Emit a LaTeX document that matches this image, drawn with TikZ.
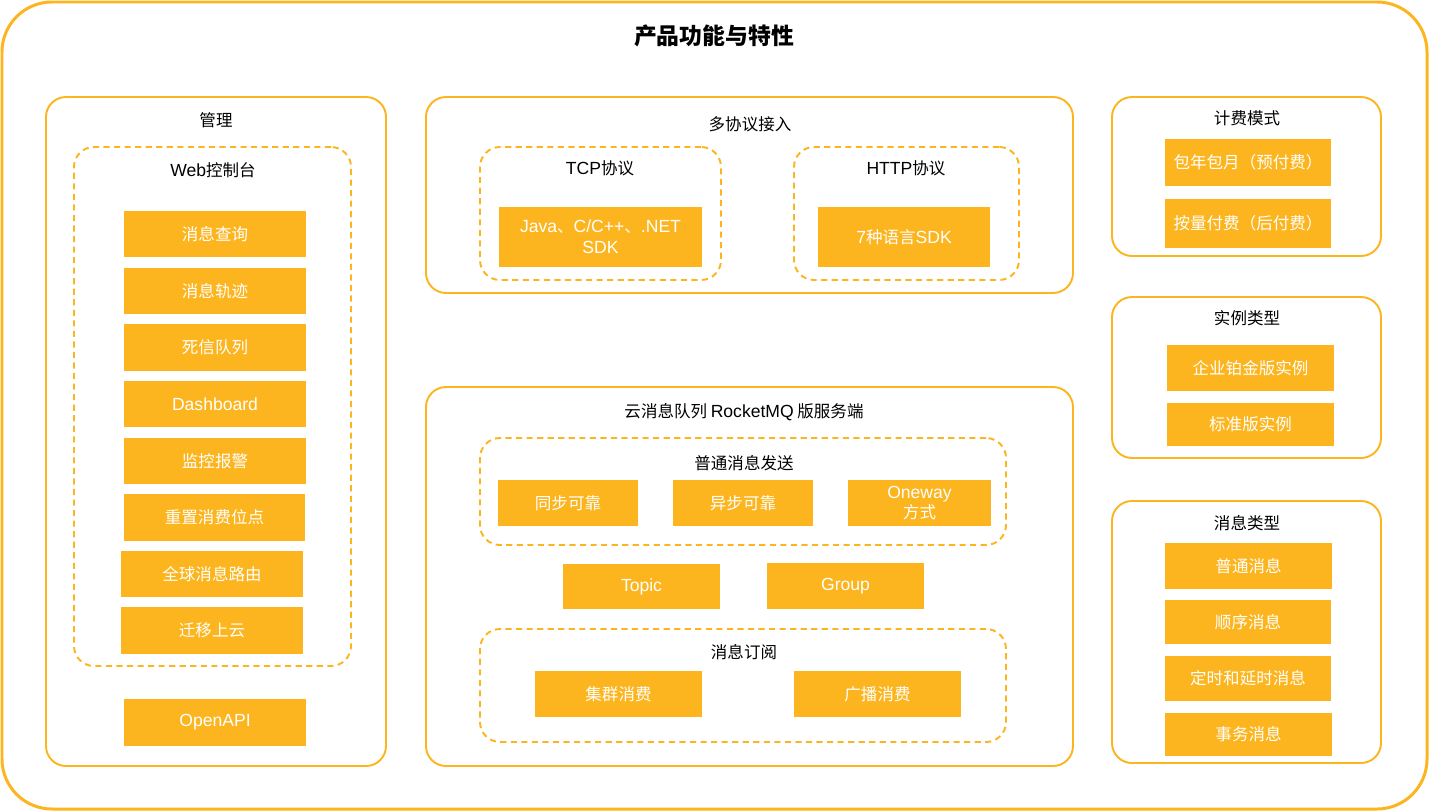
\documentclass[tikz,border=0pt]{standalone}
\usepackage{fontspec}
\setmainfont{Noto Sans CJK SC}
\newfontfamily\latf{Liberation Sans}
\newcommand\lat[1]{{\latf\fontsize{10}{11}\selectfont #1}}
\definecolor{og}{HTML}{FCB51E}
\newcommand\obox[6]{\node[ob, minimum width={(#4-#2)*0.02cm}, minimum height={(#5-#3)*0.02cm}] (#1) at ({(#2+#4)/2},{(#3+#5)/2}) {#6};}
\newcommand\frbox[6]{\node[#6, minimum width={(#4-#2)*0.02cm}, minimum height={(#5-#3)*0.02cm}] (#1) at ({(#2+#4)/2},{(#3+#5)/2}) {};}
\newcommand\ttl[4]{\node[ttlstyle] (#1) at (#2,#3) {#4};}
\begin{document}
\begin{tikzpicture}[x={(0.02cm,0)}, y={(0,-0.02cm)},
  ob/.style={fill=og, draw=none, inner sep=0pt, text=white, font=\fontsize{9.4}{10.8}\selectfont, align=center},
  solidframe/.style={draw=og, line width=1.1pt, rounded corners=0.4cm, inner sep=0pt},
  dashframe/.style={draw=og, line width=1.1pt, dashed, dash pattern=on 3.5pt off 2.5pt, rounded corners=0.4cm, inner sep=0pt},
  outerframe/.style={draw=og, line width=1.7pt, rounded corners=1cm, inner sep=0pt},
  ttlstyle/.style={text=black, font=\fontsize{9.4}{10.8}\selectfont, inner sep=0pt}]
\useasboundingbox (0,0) rectangle (1429,811);
\frbox{outer}{2}{2}{1427}{809}{outerframe}
\node[font=\fontsize{13}{15}\selectfont\bfseries, inner sep=0pt] (maintitle) at (714,36) {产品功能与特性};

% 管理
\frbox{mgmt}{46}{97}{386}{766}{solidframe}
\ttl{mgmtT}{216}{120}{管理}
\frbox{web}{74}{147}{351}{666}{dashframe}
\ttl{webT}{213}{170}{\lat{Web}控制台}
\obox{m1}{124}{211}{306}{257}{消息查询}
\obox{m2}{124}{268}{306}{314}{消息轨迹}
\obox{m3}{124}{324}{306}{371}{死信队列}
\obox{m4}{124}{381}{306}{427}{\lat{Dashboard}}
\obox{m5}{124}{438}{306}{484}{监控报警}
\obox{m6}{124}{494}{305}{541}{重置消费位点}
\obox{m7}{121}{551}{303}{597}{全球消息路由}
\obox{m8}{121}{607}{303}{654}{迁移上云}
\obox{m9}{124}{699}{306}{746}{\lat{OpenAPI}}

% 多协议接入
\frbox{proto}{426}{97}{1073}{293}{solidframe}
\ttl{protoT}{750}{124}{多协议接入}
\frbox{tcp}{480}{147}{721}{280}{dashframe}
\ttl{tcpT}{600}{168}{\lat{TCP}协议}
\obox{tcpB}{499}{207}{702}{267}{\lat{Java}、\lat{C/C++}、\lat{.NET}\\[1.2pt]\lat{SDK}}
\frbox{http}{794}{147}{1019}{280}{dashframe}
\ttl{httpT}{906}{168}{\lat{HTTP}协议}
\obox{httpB}{818}{207}{990}{267}{\lat{7}种语言\lat{SDK}}

% 服务端
\frbox{srv}{426}{387}{1073}{766}{solidframe}
\ttl{srvT}{744}{412}{云消息队列 \lat{RocketMQ} 版服务端}
\frbox{send}{480}{438}{1006}{545}{dashframe}
\ttl{sendT}{744}{463}{普通消息发送}
\obox{s1}{498}{480}{638}{526}{同步可靠}
\obox{s2}{673}{480}{813}{526}{异步可靠}
\obox{s3}{848}{480}{991}{526}{\lat{Oneway}\\[0.8pt]方式}
\obox{topic}{563}{564}{720}{609}{\lat{Topic}}
\obox{group}{767}{563}{924}{609}{\lat{Group}}
\frbox{sub}{480}{629}{1006}{742}{dashframe}
\ttl{subT}{744}{652}{消息订阅}
\obox{c1}{535}{671}{702}{717}{集群消费}
\obox{c2}{794}{671}{961}{717}{广播消费}

% 计费模式
\frbox{bill}{1112}{97}{1381}{256}{solidframe}
\ttl{billT}{1247}{118}{计费模式}
\obox{b1}{1165}{139}{1331}{186}{包年包月（预付费）}
\obox{b2}{1165}{199}{1331}{248}{按量付费（后付费）}

% 实例类型
\frbox{inst}{1112}{297}{1381}{458}{solidframe}
\ttl{instT}{1247}{318}{实例类型}
\obox{i1}{1167}{345}{1334}{391}{企业铂金版实例}
\obox{i2}{1167}{403}{1334}{446}{标准版实例}

% 消息类型
\frbox{mtype}{1112}{501}{1381}{763}{solidframe}
\ttl{mtypeT}{1247}{523}{消息类型}
\obox{t1}{1165}{543}{1332}{589}{普通消息}
\obox{t2}{1165}{600}{1331}{644}{顺序消息}
\obox{t3}{1165}{656}{1331}{701}{定时和延时消息}
\obox{t4}{1165}{713}{1332}{756}{事务消息}
\end{tikzpicture}
\end{document}
